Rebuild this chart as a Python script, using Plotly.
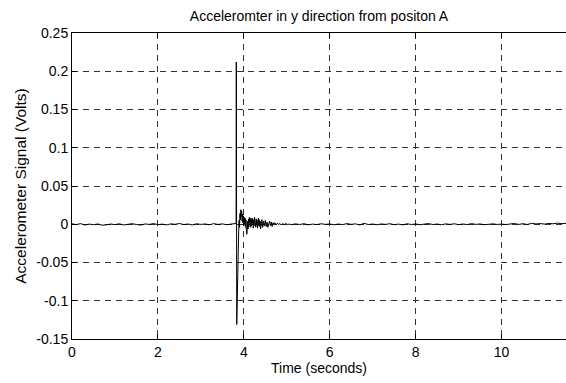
import plotly.graph_objects as go

# ---- data ----
t_pre = [0.0, 0.1, 0.2, 0.3, 0.4, 0.5, 0.6, 0.7, 0.8, 0.9,
         1.0, 1.1, 1.2, 1.3, 1.4, 1.5, 1.6, 1.7, 1.8, 1.9,
         2.0, 2.1, 2.2, 2.3, 2.4, 2.5, 2.6, 2.7, 2.8, 2.9,
         3.0, 3.1, 3.2, 3.3, 3.4, 3.5, 3.6, 3.7, 3.8]
v_pre = [0.0005, -0.0004, 0.0008, -0.0010, 0.0002, -0.0006, 0.0004, -0.0012, -0.0008, 0.0003,
         -0.0005, 0.0006, -0.0009, 0.0001, 0.0007, -0.0003, -0.0011, 0.0004, -0.0002, 0.0009,
         -0.0006, 0.0002, -0.0008, 0.0005, -0.0001, 0.0010, -0.0004, 0.0003, -0.0009, 0.0006,
         -0.0002, 0.0004, -0.0007, 0.0008, -0.0003, 0.0005, -0.0006, 0.0002, 0.0001]

t_burst = [3.81, 3.82, 3.825, 3.83, 3.835, 3.84, 3.85, 3.86, 3.87, 3.88,
           3.89, 3.90, 3.91, 3.92, 3.93, 3.94, 3.95, 3.96, 3.97, 3.98,
           3.99, 4.00, 4.01, 4.02, 4.03, 4.04, 4.05, 4.06, 4.07, 4.08,
           4.09, 4.10, 4.11, 4.12, 4.13, 4.14, 4.15, 4.16, 4.17, 4.18,
           4.19, 4.20, 4.21, 4.22, 4.23, 4.24, 4.25, 4.26, 4.27, 4.28,
           4.29, 4.30, 4.31, 4.32, 4.33, 4.34, 4.35, 4.36, 4.37, 4.38,
           4.39, 4.40, 4.42, 4.44, 4.46, 4.48, 4.50, 4.52, 4.54, 4.56,
           4.58, 4.60, 4.62, 4.64, 4.66, 4.68, 4.70, 4.72, 4.75, 4.78,
           4.81, 4.84, 4.87, 4.90, 4.94, 4.98, 5.02, 5.06]
v_burst = [0.001, 0.000, 0.212, 0.050, -0.131, -0.110, -0.070, -0.045, -0.025, -0.010,
           0.005, -0.004, 0.014, 0.006, 0.019, 0.010, 0.017, 0.004, 0.013, 0.002,
           0.011, -0.002, 0.009, 0.000, 0.008, -0.004, 0.006, -0.008, -0.013, -0.006,
           0.004, -0.006, 0.007, -0.003, 0.009, 0.002, 0.008, -0.004, 0.006, -0.002,
           0.008, 0.001, 0.007, -0.005, 0.005, -0.002, 0.009, 0.000, 0.006, -0.004,
           0.007, -0.001, 0.005, -0.005, 0.004, 0.008, -0.002, 0.006, -0.003, 0.004,
           -0.006, 0.003, 0.006, -0.004, 0.004, -0.002, 0.005, -0.003, 0.003, -0.004,
           0.002, 0.004, -0.002, 0.003, -0.003, 0.002, 0.000, 0.002, -0.001, 0.0015,
           -0.0005, 0.001, -0.001, 0.0008, -0.0004, 0.0010, -0.0006, 0.0003]

t_post = [5.1, 5.2, 5.3, 5.4, 5.5, 5.6, 5.7, 5.8, 5.9, 6.0,
          6.1, 6.2, 6.3, 6.4, 6.5, 6.6, 6.7, 6.8, 6.9, 7.0,
          7.1, 7.2, 7.3, 7.4, 7.5, 7.6, 7.7, 7.8, 7.9, 8.0,
          8.1, 8.2, 8.3, 8.4, 8.5, 8.6, 8.7, 8.8, 8.9, 9.0,
          9.1, 9.2, 9.3, 9.4, 9.5, 9.6, 9.7, 9.8, 9.9, 10.0,
          10.1, 10.2, 10.3, 10.4, 10.5, 10.6, 10.7, 10.8, 10.9, 11.0,
          11.1, 11.2, 11.3, 11.4, 11.5]
v_post = [-0.0006, 0.0005, -0.0003, 0.0007, -0.0008, 0.0002, -0.0004, 0.0006, -0.0002, 0.0004,
          -0.0007, 0.0003, -0.0005, 0.0008, -0.0001, 0.0005, -0.0009, 0.0012, -0.0004, 0.0003,
          -0.0006, 0.0004, -0.0002, 0.0007, -0.0005, 0.0002, -0.0008, 0.0006, -0.0003, 0.0004,
          -0.0006, 0.0002, 0.0009, -0.0004, 0.0003, -0.0007, 0.0005, -0.0002, 0.0006, -0.0005,
          0.0003, -0.0004, 0.0008, -0.0002, 0.0004, -0.0006, 0.0001, 0.0005, -0.0003, 0.0002,
          -0.0004, 0.0006, 0.0010, -0.0002, 0.0007, -0.0003, 0.0012, 0.0004, 0.0009, 0.0002,
          0.0011, 0.0006, 0.0014, 0.0008, 0.0012]

assert len(t_pre) == len(v_pre)
assert len(t_burst) == len(v_burst)
assert len(t_post) == len(v_post)

time = t_pre + t_burst + t_post
signal = v_pre + v_burst + v_post

x_ticks = [0, 2, 4, 6, 8, 10]
y_ticks = [-0.15, -0.1, -0.05, 0, 0.05, 0.1, 0.15, 0.2, 0.25]
y_ticklabels = ["-0.15", "-0.1", "-0.05", "0", "0.05", "0.1", "0.15", "0.2", "0.25"]

FONT = "Liberation Sans, Arial, sans-serif"

fig = go.Figure()
fig.add_trace(go.Scatter(x=time, y=signal, mode="lines",
                         line=dict(color="black", width=1), showlegend=False))

fig.update_layout(
    width=566, height=383,
    margin=dict(l=72, r=0, t=33, b=44),
    paper_bgcolor="white", plot_bgcolor="white",
    font=dict(family=FONT, size=14, color="black"),
    title=dict(text="Acceleromter in y direction from positon A",
               x=0.5, xref="paper", xanchor="center",
               y=1 - 16 / 383, yref="container", yanchor="middle",
               font=dict(family=FONT, size=14, color="black")),
)
fig.update_xaxes(
    range=[0, 11.5], tickvals=x_ticks, ticks="inside", ticklen=5,
    tickcolor="black", showline=True, linecolor="black", linewidth=1,
    mirror="ticks", showgrid=True, gridcolor="#333", gridwidth=1,
    griddash="6px,5px", zeroline=False,
    tickfont=dict(family=FONT, size=14, color="black"),
    title=dict(text="Time (seconds)", standoff=4,
               font=dict(family=FONT, size=14, color="black")),
)
fig.update_yaxes(
    range=[-0.15, 0.25], tickvals=y_ticks, ticktext=y_ticklabels,
    ticks="inside", ticklen=5, tickcolor="black", showline=True,
    linecolor="black", linewidth=1, mirror=False, showgrid=True,
    gridcolor="#333", gridwidth=1, griddash="6px,5px", zeroline=False,
    tickfont=dict(family=FONT, size=14, color="black"),
    title=dict(text="Accelerometer Signal (Volts)", standoff=5,
               font=dict(family=FONT, size=15.5, color="black")),
)

fig.write_html("out.html")
